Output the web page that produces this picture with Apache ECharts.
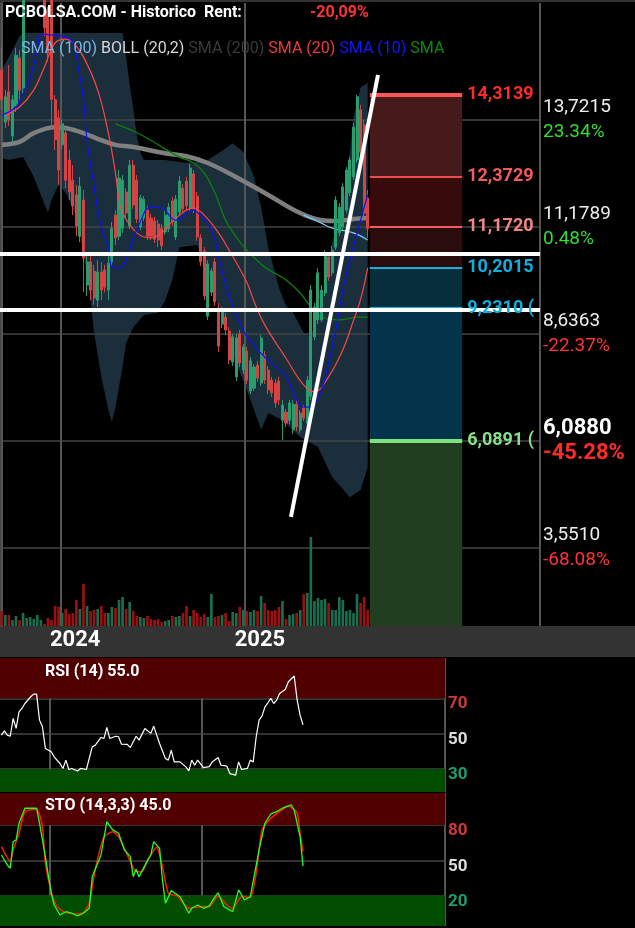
<!DOCTYPE html>
<html><head><meta charset="utf-8">
<script src="https://cdn.jsdelivr.net/npm/echarts@6/dist/echarts.min.js"></script>
<style>html,body{margin:0;padding:0;background:#000;}#c{width:635px;height:928px;}</style>
</head><body><div id="c"></div>
<script>
// ---------- DATA ----------
const firstWeekEnd = [2023, 8, 8];   // weekly bars, week-ending Friday 2023-09-08
const totalSlots = 152;              // weeks shown on the time axis (incl. future space)
// [open, close, low, high]
const candles = [
[14.90,14.19,13.95,15.44],[13.66,14.26,13.52,14.42],[14.38,13.71,13.57,15.02],[13.33,14.19,13.19,14.30],
[14.04,15.25,13.90,15.42],[15.18,14.42,14.19,15.37],[14.47,16.60,14.33,16.90],[16.70,17.10,16.60,17.30],
[17.10,17.40,16.90,17.60],[17.40,17.60,17.20,17.80],[17.60,17.90,17.40,18.10],[17.90,18.10,17.70,18.30],
[18.00,15.90,15.70,18.20],[16.30,15.30,15.10,16.40],[16.70,14.20,13.50,16.90],[14.19,13.24,13.00,14.30],
[13.76,12.52,12.17,13.95],[13.12,13.62,13.00,13.71],[13.40,12.28,12.09,13.54],[12.76,12.00,11.81,13.00],
[12.28,11.67,11.45,12.64],[11.93,11.19,10.95,12.17],[10.95,12.14,10.81,12.36],[11.81,10.43,9.62,12.05],
[9.79,10.34,9.53,10.50],[10.34,9.67,9.43,10.50],[10.12,9.48,9.32,10.27],[9.43,10.10,9.27,10.38],
[10.10,9.67,9.43,10.34],[10.15,9.74,9.62,10.27],[9.67,10.31,9.43,10.48],[10.34,11.14,10.24,11.29],
[11.45,10.91,10.74,11.57],[10.95,12.33,10.86,12.52],[11.14,12.28,11.03,12.40],[12.00,11.50,11.38,12.09],
[11.19,12.64,11.12,12.76],[12.64,11.69,11.60,12.76],[12.28,11.36,11.26,12.40],[11.17,11.86,11.10,11.93],
[11.38,11.83,11.31,11.90],[11.57,10.95,10.86,11.67],[11.38,10.95,10.86,11.48],[11.31,10.88,10.79,11.41],
[11.24,10.86,10.69,11.33],[11.14,10.72,10.62,11.24],[11.05,11.45,10.98,11.55],[11.12,11.64,11.05,11.74],
[11.79,11.29,11.19,11.88],[10.93,11.83,10.86,11.93],[11.52,12.26,11.43,12.38],[12.09,11.60,11.52,12.19],
[12.26,11.67,11.57,12.36],[11.60,12.57,11.52,12.67],[12.43,11.60,11.50,12.52],[11.90,10.93,10.84,12.00],
[10.91,10.34,10.24,11.00],[10.60,9.53,9.43,10.69],[9.05,10.29,8.96,10.38],[9.62,10.12,9.53,10.19],
[10.34,9.39,9.29,10.43],[9.24,8.34,8.20,9.36],[8.86,9.20,8.77,9.27],[9.03,8.72,8.60,9.13],
[8.70,8.01,7.91,8.79],[7.96,8.56,7.87,8.63],[7.61,8.53,7.51,8.63],[8.63,7.94,7.84,8.72],
[7.77,8.32,7.68,8.39],[8.22,7.53,7.44,8.32],[7.27,7.99,7.20,8.08],[7.34,7.84,7.27,7.91],
[7.89,7.58,7.49,7.99],[7.46,8.53,7.39,8.60],[8.13,7.53,7.44,8.22],[7.77,7.30,7.20,7.87],
[7.53,7.23,7.13,7.61],[7.46,6.99,6.87,7.56],[7.51,7.06,6.94,7.61],[6.58,6.94,6.11,7.06],
[6.77,6.51,6.42,6.85],[6.58,6.99,6.49,7.06],[6.35,6.96,6.25,7.06],[6.96,6.42,6.32,7.06],
[6.35,6.75,6.28,6.82],[6.87,6.63,6.56,6.94],[6.51,7.53,6.42,7.63],[7.15,9.67,7.06,9.79],
[8.56,9.27,8.48,9.36],[8.96,10.08,8.86,10.19],[8.96,9.67,8.91,9.79],[9.60,10.55,9.53,10.62],
[10.46,9.98,9.89,10.55],[10.08,10.62,10.00,10.72],[10.69,11.81,10.62,11.90],[11.03,11.64,10.95,11.74],
[11.17,12.12,11.10,12.21],[11.57,12.52,11.50,12.59],[11.98,12.76,11.90,12.83],[12.36,13.54,12.28,13.64],
[12.76,14.26,12.69,14.31],[13.95,12.95,12.83,14.07],[13.59,11.50,11.38,13.71],[11.86,11.125,10.91,12.05]
];
// weekly volume (thousands)
const volume = [150,110,110,60,100,60,130,80,90,70,110,60,20,80,60,200,190,130,170,120,
130,260,170,420,200,150,160,170,200,130,130,190,180,260,290,170,240,150,100,90,
80,100,70,60,70,40,50,60,100,90,100,130,200,100,160,130,90,120,90,320,
90,100,110,130,50,140,130,190,160,150,140,160,150,300,230,160,150,160,190,250,
70,110,120,130,160,320,330,890,250,280,260,270,230,160,160,290,260,150,160,130,
320,230,290,160];
// indicator lines: [barIndex, value]
const sma10 = [[0,13.83],[4,14.02],[6,14.35],[8,14.73],[10,15.37],[11,15.75],[14,15.73],[18,15.68],[20,15.56],[21,15.21],[23,14.19],[24,13.23],[26,12.12],[28,11.17],[30,10.67],[31,10.22],[33,10.19],[38,11.10],[42,11.64],[45,11.62],[49,11.33],[54,11.57],[55,11.52],[59,11.10],[61,10.46],[64,9.51],[67,8.89],[69,8.56],[74,8.08],[80,7.61],[84,6.93],[86,6.89],[88,6.98],[90,7.30],[92,7.94],[94,8.72],[96,9.67],[98,10.38],[101,11.33],[103,11.93]];
const sma20 = [[1,13.83],[5,14.02],[9,14.42],[12,14.97],[15,15.54],[18,15.63],[20,15.56],[23,15.21],[27,14.42],[30,13.40],[32,12.45],[33,11.81],[34,11.50],[38,11.03],[42,10.91],[45,11.03],[49,11.38],[54,11.62],[57,11.45],[61,11.03],[64,10.62],[69,9.85],[71,9.40],[74,8.85],[80,8.05],[85,7.41],[88,7.25],[92,7.61],[96,8.25],[99,8.95],[101,9.45],[103,10.20]];
const sma50 = [[32,13.62],[37,13.45],[42,13.23],[46,13.02],[50,12.83],[54,12.69],[57,12.45],[60,11.98],[63,11.33],[66,10.93],[69,10.62],[74,10.22],[80,9.91],[84,9.60],[87,9.27],[90,9.03],[95,8.96],[100,9.03],[103,9.03]];
const sma100 = [[85,11.45],[90,11.26],[93,11.14],[99,11.03],[103,10.86]];
const sma200 = [[0,13.12],[5,13.19],[9,13.40],[15,13.54],[18,13.52],[23,13.40],[28,13.23],[32,13.12],[37,13.07],[46,12.92],[52,12.85],[58,12.69],[65,12.40],[75,11.93],[84,11.50],[90,11.33],[94,11.31],[99,11.36],[103,11.38]];
const bollUpper = [[0,14.90],[3,15.37],[5,15.70],[6,15.78],[34,15.78],[35,15.20],[36,14.54],[37,14.00],[38,13.35],[39,12.95],[40,12.76],[46,12.76],[52,12.69],[58,12.76],[61,12.92],[65,13.16],[68,12.95],[71,12.36],[73,11.64],[75,10.69],[78,9.74],[80,9.30],[82,9.13],[85,8.65],[87,8.56],[90,9.43],[93,10.79],[97,12.12],[99,13.78],[101,14.49],[103,14.59]];
const bollLower = [[0,12.81],[2,12.76],[6,12.83],[9,12.36],[13,11.50],[14,11.81],[16,12.17],[18,11.98],[21,11.41],[23,10.55],[25,9.43],[26,8.65],[28,7.61],[30,6.82],[31,6.54],[32,6.89],[34,7.84],[35,8.41],[37,8.79],[40,9.08],[44,9.13],[46,9.43],[48,9.91],[50,10.69],[55,10.74],[58,10.15],[60,9.51],[63,8.89],[65,8.13],[69,7.30],[73,6.35],[75,6.75],[79,6.58],[84,6.18],[89,5.94],[93,5.23],[98,4.75],[101,4.92],[103,5.47]];
const rsi = [[0,49.2],[1,51.6],[2,49.2],[3,48.6],[4,58.7],[5,53.0],[6,62.4],[7,64.3],[8,67.1],[10,70.9],[11,72.4],[12,72.4],[13,57.7],[14,53.9],[15,41.7],[17,39.8],[18,37.0],[20,33.2],[21,30.4],[22,35.1],[23,29.8],[24,30.4],[26,29.0],[27,30.4],[29,29.8],[31,42.6],[32,43.5],[34,47.9],[35,47.3],[36,53.6],[37,47.3],[39,48.6],[40,48.3],[41,44.1],[43,44.0],[44,42.2],[46,48.6],[47,46.4],[49,53.0],[51,50.2],[52,54.3],[54,44.5],[56,36.0],[57,35.1],[58,40.7],[59,34.1],[61,34.1],[63,31.3],[64,29.0],[65,35.1],[66,32.2],[67,35.1],[69,30.9],[71,31.4],[72,34.1],[74,36.6],[75,32.2],[77,31.7],[78,27.5],[80,26.6],[81,34.1],[82,29.8],[84,30.4],[85,35.1],[86,34.1],[87,48.2],[88,57.7],[89,60.0],[90,65.2],[91,67.5],[92,70.0],[93,67.1],[94,69.0],[95,72.8],[97,75.1],[98,79.4],[100,82.6],[101,69.0],[102,60.5],[103,55.0]];
const stoK = [[0,54.5],[2,46.0],[3,43.2],[4,65.9],[5,67.3],[6,81.6],[8,94.4],[10,94.4],[12,94.4],[13,81.6],[15,53.1],[17,21.8],[18,11.8],[20,3.3],[22,6.1],[24,4.8],[26,2.5],[28,4.8],[30,9.0],[31,36.0],[34,54.5],[35,68.8],[36,82.9],[38,75.9],[40,73.0],[42,58.8],[44,53.1],[45,36.0],[46,42.3],[47,36.0],[50,50.3],[51,54.5],[52,65.9],[54,60.2],[55,33.2],[56,13.3],[58,24.1],[61,18.9],[64,4.8],[65,9.0],[67,11.8],[69,9.0],[71,11.0],[73,18.9],[74,22.3],[76,10.4],[79,6.1],[81,24.7],[83,16.1],[85,18.9],[88,58.8],[90,81.6],[92,89.5],[94,91.5],[96,94.4],[99,97.2],[100,92.9],[102,70.1],[103,45.0]];
const stoD = [[0,61.6],[3,48.8],[4,58.8],[6,73.0],[8,91.5],[12,93.5],[14,78.7],[15,47.4],[17,23.2],[19,10.4],[22,5.3],[26,4.2],[28,5.3],[30,13.3],[32,41.7],[35,70.1],[38,74.4],[40,70.1],[43,54.5],[46,40.3],[48,40.3],[50,50.3],[53,61.1],[55,44.5],[57,21.8],[60,19.5],[64,9.0],[68,10.4],[71,10.4],[74,19.5],[77,11.8],[79,9.0],[82,18.9],[85,18.0],[87,38.9],[89,75.9],[92,85.8],[95,91.5],[98,96.3],[101,90.1],[102,73.0],[103,57.3]];
// price scale ticks and reference price for the % column
const priceTicks = [3.5510, 6.0880, 8.6363, 11.1789, 13.7215];
const boldTick = 6.0880;
const refPrice = 11.125;
const rentText = '-20,09%';
// fibonacci-style levels drawn to the right of the last bar
const fibLevels = [14.3139, 12.3729, 11.1720, 10.2015, 9.2310, 6.0891];
const fibLabels = ['14,3139', '12,3729', '11,1720', '10,2015', '9,2310 (', '6,0891 ('];
const fibWeeks = 26;
// hand-drawn lines: horizontal levels and a trend line [barIndex, price]
const whiteLevels = [10.527, 9.197];
const trendLine = [[81.4, 4.28], [105.9, 14.78]];
const rsiTicks = [30, 50, 70];
const stoTicks = [20, 50, 80];

// ---------- STYLE ----------
const UP = '#2a9d6e', DOWN = '#d64343', VUP = '#1a6e4e', VDOWN = '#9b1111';
const fibZone = ['#461a1a', '#370b0b', '#2b0d0d', '#062e3b', '#04344b', '#213f20'];
const fibLine = ['#ff5555', '#f04b4b', '#f05e5e', '#18aee0', '#18aee0', '#7ee07e'];
const fibText = ['#ff2b2b', '#f55b5b', '#f38585', '#10aee0', '#10aee0', '#86e086'];
const fibWidth = [4, 2, 2, 2, 4, 4];
const FONT = 'Roboto';
const PRICE_MIN = 1.69, PRICE_MAX = 16.49;
const RSI_MIN = 17.1, RSI_MAX = 92.8, STO_MIN = -6.1, STO_MAX = 107.4;

// ---------- BUILD ----------
const weeks = [];
for (let i = 0; i < totalSlots; i++) {
  const d = new Date(Date.UTC(firstWeekEnd[0], firstWeekEnd[1], firstWeekEnd[2] + 7 * i));
  weeks.push(d.toISOString().slice(0, 10));
}
const nBars = candles.length;
function yearStart(i) {
  return i > 0 && i < nBars && weeks[i].slice(0, 4) !== weeks[i - 1].slice(0, 4);
}
const volData = volume.map((v, i) => ({
  value: v, itemStyle: { color: candles[i][1] >= candles[i][0] ? VUP : VDOWN }
}));
const fibX0 = nBars - 0.4, fibX1 = fibX0 + fibWeeks;
const zones = fibLevels.map((lv, i) => [
  { xAxis: fibX0, yAxis: lv, itemStyle: { color: fibZone[i] } },
  { xAxis: fibX1, yAxis: i + 1 < fibLevels.length ? fibLevels[i + 1] : PRICE_MIN }
]);
const fibLinesData = fibLevels.map((lv, i) => [
  { coord: [fibX0, lv], lineStyle: { color: fibLine[i], width: fibWidth[i], type: 'solid' },
    label: { show: true, position: 'end', distance: 5, formatter: fibLabels[i], color: fibText[i],
             fontSize: 18, fontWeight: 'bold', fontFamily: FONT } },
  { coord: [fibX1, lv] }
]);
const fmt4 = v => v.toFixed(4).replace('.', ',');

const catAxis = (grid, labels) => ({
  type: 'category', gridIndex: grid, data: weeks, boundaryGap: true, z: 1,
  axisLine: { show: false }, axisTick: { show: false },
  axisLabel: labels ? {
    show: true, interval: (i) => yearStart(i), formatter: v => v.slice(0, 4),
    color: '#fff', fontSize: 22, fontWeight: 'bold', fontFamily: FONT, margin: 3, padding: [0, 0, 0, 26]
  } : { show: false },
  splitLine: { show: true, interval: (i) => yearStart(i), lineStyle: { color: '#555', width: 2 } }
});

const option = {
  backgroundColor: '#000',
  animation: false,
  textStyle: { fontFamily: FONT },
  title: [
    { text: 'PCBOLSA.COM - Historico  Rent:', left: 5, top: 5, padding: 0,
      textStyle: { color: '#fff', fontSize: 16, fontWeight: 'bold', fontFamily: FONT } },
    { text: rentText, left: 310, top: 5, padding: 0,
      textStyle: { color: '#ff3333', fontSize: 16, fontWeight: 'bold', fontFamily: FONT } },
    { text: '{a|SMA (100)} {b|BOLL (20,2)} {c|SMA (200)} {d|SMA (20)} {e|SMA (10)} {f|SMA}',
      left: 21, top: 41, padding: 0,
      textStyle: { fontSize: 16, fontWeight: 'normal', fontFamily: FONT, rich: {
        a: { color: '#7ab6e0', fontSize: 16 }, b: { color: '#d8d8d8', fontSize: 16 },
        c: { color: '#3a3a3a', fontSize: 16 }, d: { color: '#e83c3c', fontSize: 16 },
        e: { color: '#1515ff', fontSize: 16 }, f: { color: '#0a8a0a', fontSize: 16 } } } },
    { text: 'RSI (14) ' + rsi[rsi.length - 1][1].toFixed(1), left: 45, top: 664, padding: 0,
      textStyle: { color: '#fff', fontSize: 16, fontWeight: 'bold', fontFamily: FONT } },
    { text: 'STO (14,3,3) ' + stoK[stoK.length - 1][1].toFixed(1), left: 45, top: 798, padding: 0,
      textStyle: { color: '#fff', fontSize: 16, fontWeight: 'bold', fontFamily: FONT } }
  ],
  graphic: [
    { type: 'rect', left: 0, top: 0, z: -10, shape: { width: 635, height: 2 }, style: { fill: '#333' } },
    { type: 'rect', left: 0, top: 626, z: -10, shape: { width: 635, height: 31 }, style: { fill: '#333' } }
  ],
  grid: [
    { left: 0, top: 3, width: 540, height: 623 },
    { left: 0, top: 526, width: 540, height: 100 },
    { left: 0, top: 658, width: 445, height: 134 },
    { left: 0, top: 793, width: 445, height: 133 }
  ],
  xAxis: [
    catAxis(0, true),
    { type: 'value', gridIndex: 0, min: -0.5, max: totalSlots - 0.5, show: false },
    { type: 'category', gridIndex: 1, data: weeks, show: false },
    catAxis(2, false),
    catAxis(3, false)
  ],
  yAxis: [
    { type: 'value', gridIndex: 0, position: 'right', min: PRICE_MIN, max: PRICE_MAX, z: 1,
      axisLine: { show: true, lineStyle: { color: '#555', width: 2 } },
      axisTick: { show: false, customValues: priceTicks },
      splitLine: { show: true, lineStyle: { color: '#444', width: 1.5 } },
      axisLabel: { customValues: priceTicks, margin: 3,
        formatter: v => {
          const b = Math.abs(v - boldTick) < 1e-6;
          const pct = (v / refPrice - 1) * 100;
          const pk = pct >= 0 ? (b ? 'pgb' : 'pg') : (b ? 'prb' : 'pr');
          return '{' + (b ? 'vb' : 'v') + '|' + fmt4(v) + '}\n{' + pk + '|' + pct.toFixed(2) + '%}';
        },
        rich: {
          v: { color: '#eeeeee', fontSize: 19, lineHeight: 25, fontFamily: FONT },
          vb: { color: '#ffffff', fontSize: 22, fontWeight: 'bold', lineHeight: 25, fontFamily: FONT },
          pg: { color: '#33dd33', fontSize: 19, lineHeight: 25, fontFamily: FONT },
          pgb: { color: '#33dd33', fontSize: 22, fontWeight: 'bold', lineHeight: 25, fontFamily: FONT },
          pr: { color: '#ff3333', fontSize: 19, lineHeight: 25, fontFamily: FONT },
          prb: { color: '#ff2a2a', fontSize: 22, fontWeight: 'bold', lineHeight: 25, fontFamily: FONT }
        } } },
    { type: 'value', gridIndex: 1, min: 0, max: 1000, show: false },
    { type: 'value', gridIndex: 2, position: 'right', min: RSI_MIN, max: RSI_MAX, z: 1,
      axisLine: { show: false }, axisTick: { show: false, customValues: rsiTicks },
      splitLine: { show: true, lineStyle: { color: '#444', width: 1.5 } },
      axisLabel: { customValues: rsiTicks, margin: 3, verticalAlign: 'top', lineHeight: 11,
        fontSize: 17, fontWeight: 'bold', fontFamily: FONT,
        color: v => v >= 70 ? '#cc3a3a' : (v <= 30 ? '#1e9e6e' : '#dddddd') } },
    { type: 'value', gridIndex: 3, position: 'right', min: STO_MIN, max: STO_MAX, z: 1,
      axisLine: { show: false }, axisTick: { show: false, customValues: stoTicks },
      splitLine: { show: true, lineStyle: { color: '#444', width: 1.5 } },
      axisLabel: { customValues: stoTicks, margin: 3, verticalAlign: 'top', lineHeight: 12,
        fontSize: 17, fontWeight: 'bold', fontFamily: FONT,
        color: v => v >= 80 ? '#cc3a3a' : (v <= 20 ? '#1e9e6e' : '#dddddd') } },
    { type: 'value', gridIndex: 0, position: 'left', min: PRICE_MIN, max: PRICE_MAX,
      axisLine: { show: true, lineStyle: { color: '#444', width: 2 } },
      axisTick: { show: false }, axisLabel: { show: false }, splitLine: { show: false } }
  ],
  series: [
    { name: 'BOLL (20,2)', type: 'custom', xAxisIndex: 0, yAxisIndex: 0, z: 0, silent: true, clip: true,
      data: [0],
      renderItem: (params, api) => {
        const pts = bollUpper.map(p => api.coord(p));
        for (let k = bollLower.length - 1; k >= 0; k--) pts.push(api.coord(bollLower[k]));
        return { type: 'polygon', shape: { points: pts }, style: { fill: '#1b2e3b' } };
      } },
    { name: 'fibZones', type: 'line', xAxisIndex: 1, yAxisIndex: 0, z: 0, data: [], silent: true,
      markArea: { silent: true, data: zones } },
    { name: 'SMA (200)', type: 'line', xAxisIndex: 0, yAxisIndex: 0, z: 2, data: sma200, smooth: 0.4,
      showSymbol: false, lineStyle: { color: '#7f7f7f', width: 4.5 } },
    { name: 'SMA (100)', type: 'line', xAxisIndex: 0, yAxisIndex: 0, z: 2, data: sma100, smooth: 0.4,
      showSymbol: false, lineStyle: { color: '#80c4f0', width: 1.3 } },
    { name: 'SMA', type: 'line', xAxisIndex: 0, yAxisIndex: 0, z: 2, data: sma50, smooth: 0.4,
      showSymbol: false, lineStyle: { color: '#0a820a', width: 1.3 } },
    { name: 'Price', type: 'candlestick', xAxisIndex: 0, yAxisIndex: 0, z: 2, data: candles, barWidth: '72%',
      itemStyle: { color: UP, color0: DOWN, borderColor: UP, borderColor0: DOWN, borderWidth: 1 } },
    { name: 'SMA (20)', type: 'line', xAxisIndex: 0, yAxisIndex: 0, z: 3, data: sma20, smooth: 0.4,
      showSymbol: false, lineStyle: { color: '#ff4545', width: 1.2 } },
    { name: 'SMA (10)', type: 'line', xAxisIndex: 0, yAxisIndex: 0, z: 3, data: sma10, smooth: 0.4,
      showSymbol: false, lineStyle: { color: '#1010ff', width: 1.2 } },
    { name: 'Volume', type: 'bar', xAxisIndex: 2, yAxisIndex: 1, z: 2, data: volData, barWidth: '75%' },
    { name: 'fibLines', type: 'line', xAxisIndex: 1, yAxisIndex: 0, z: 4, data: [], silent: true,
      markLine: { silent: true, symbol: ['none', 'none'], data: fibLinesData } },
    { name: 'levels', type: 'line', xAxisIndex: 0, yAxisIndex: 0, z: 6, data: [], silent: true,
      markLine: { silent: true, symbol: ['none', 'none'], label: { show: false },
        lineStyle: { color: '#fff', width: 4, type: 'solid' },
        data: whiteLevels.map(v => ({ yAxis: v })) } },
    { name: 'trend', type: 'line', xAxisIndex: 1, yAxisIndex: 0, z: 6, data: trendLine, showSymbol: false,
      lineStyle: { color: '#fff', width: 4 } },
    { name: 'rsiZones', type: 'line', xAxisIndex: 3, yAxisIndex: 2, z: 0, data: [], silent: true,
      markArea: { silent: true, data: [
        [{ yAxis: 70, itemStyle: { color: '#500000' } }, { yAxis: RSI_MAX }],
        [{ yAxis: RSI_MIN, itemStyle: { color: '#004d00' } }, { yAxis: 30 }] ] } },
    { name: 'RSI (14)', type: 'line', xAxisIndex: 3, yAxisIndex: 2, z: 3, data: rsi, showSymbol: false,
      lineStyle: { color: '#ffffff', width: 1.2 } },
    { name: 'stoZones', type: 'line', xAxisIndex: 4, yAxisIndex: 3, z: 0, data: [], silent: true,
      markArea: { silent: true, data: [
        [{ yAxis: 80, itemStyle: { color: '#500000' } }, { yAxis: STO_MAX }],
        [{ yAxis: STO_MIN, itemStyle: { color: '#004d00' } }, { yAxis: 20 }] ] } },
    { name: '%D', type: 'line', xAxisIndex: 4, yAxisIndex: 3, z: 3, data: stoD, showSymbol: false, smooth: 0.2,
      lineStyle: { color: '#ff1a00', width: 1.5 } },
    { name: '%K', type: 'line', xAxisIndex: 4, yAxisIndex: 3, z: 3, data: stoK, showSymbol: false,
      lineStyle: { color: '#22ff22', width: 1.3 } }
  ]
};
const chart = echarts.init(document.getElementById('c'));
chart.setOption(option);
</script>
</body></html>
